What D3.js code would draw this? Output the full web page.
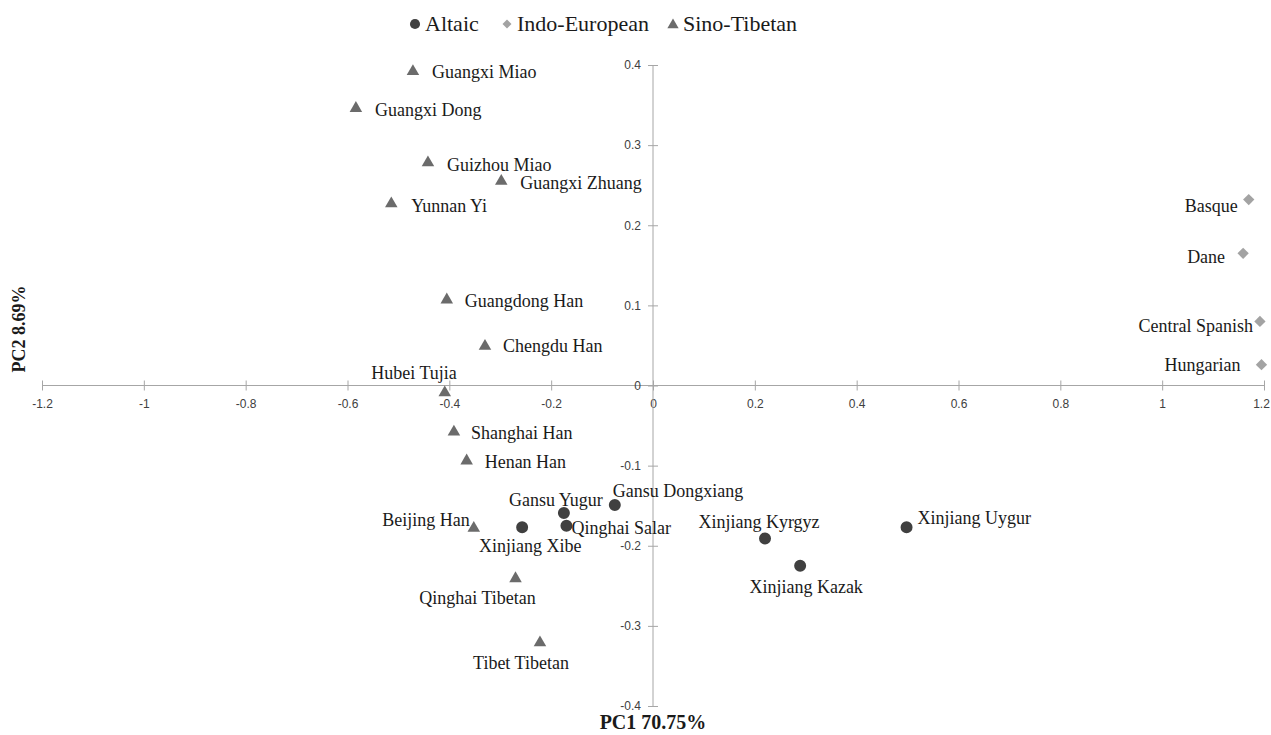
<!DOCTYPE html>
<html>
<head>
<meta charset="utf-8">
<script src="https://cdn.jsdelivr.net/npm/d3@7"></script>
<style>
  html, body { margin: 0; padding: 0; background: #fff; }
  svg { display: block; }
  .lbl { font-family: "Liberation Serif", "Times New Roman", serif; font-size: 18px; fill: #1a1a1a; }
  .tick text { font-family: "Liberation Sans", Arial, sans-serif; font-size: 12px; fill: #404040; }
</style>
</head>
<body>
<svg id="chart" width="1271" height="735"></svg>
<script>
// ---- Data ----
const altaicNames = ["Gansu Yugur", "Gansu Dongxiang", "Xinjiang Xibe", "Qinghai Salar", "Xinjiang Kyrgyz", "Xinjiang Kazak", "Xinjiang Uygur"];
const altaicPC1   = [-0.175, -0.075, -0.257, -0.170, 0.220, 0.289, 0.498];
const altaicPC2   = [-0.159, -0.149, -0.177, -0.175, -0.191, -0.225, -0.177];

const indoNames = ["Basque", "Dane", "Central Spanish", "Hungarian"];
const indoPC1   = [1.170, 1.159, 1.192, 1.195];
const indoPC2   = [0.232, 0.165, 0.080, 0.026];

const sinoNames = ["Guangxi Miao", "Guangxi Dong", "Guizhou Miao", "Guangxi Zhuang", "Yunnan Yi", "Guangdong Han", "Chengdu Han", "Hubei Tujia", "Shanghai Han", "Henan Han", "Beijing Han", "Qinghai Tibetan", "Tibet Tibetan"];
const sinoPC1   = [-0.4715, -0.5835, -0.442, -0.298, -0.514, -0.405, -0.330, -0.409, -0.391, -0.366, -0.352, -0.270, -0.222];
const sinoPC2   = [0.392, 0.346, 0.278, 0.255, 0.227, 0.107, 0.049, -0.009, -0.058, -0.094, -0.178, -0.241, -0.321];

const groups = ["Altaic", "Indo-European", "Sino-Tibetan"];
const xTicks = [-1.2, -1, -0.8, -0.6, -0.4, -0.2, 0, 0.2, 0.4, 0.6, 0.8, 1, 1.2];
const yTicks = [-0.4, -0.3, -0.2, -0.1, 0, 0.1, 0.2, 0.3, 0.4];
const xTitle = "PC1 70.75%";
const yTitle = "PC2 8.69%";

// ---- Layout / style (not data) ----
const groupStyle = {
  "Altaic":        { shape: d3.symbolCircle,   size: 113, color: "#404040", rotate: 0 },
  "Indo-European": { shape: d3.symbolSquare,   size: 64,  color: "#a3a3a3", rotate: 45 },
  "Sino-Tibetan":  { shape: d3.symbolTriangle, size: 68,  color: "#6b6b6b", rotate: 0 }
};
// label offsets relative to marker: [dx, dy, anchor]
const labelPlace = {
  "Guangxi Miao": [19, 7, "start"], "Guangxi Dong": [19, 8, "start"], "Guizhou Miao": [19, 8, "start"],
  "Guangxi Zhuang": [19, 8, "start"], "Yunnan Yi": [20, 8, "start"], "Guangdong Han": [18, 7, "start"],
  "Chengdu Han": [18, 6, "start"], "Hubei Tujia": [12, -14, "end"], "Shanghai Han": [17, 7, "start"],
  "Henan Han": [18, 7, "start"], "Beijing Han": [-4, -2, "end"], "Qinghai Tibetan": [-38, 25, "middle"],
  "Tibet Tibetan": [-19, 26, "middle"],
  "Gansu Yugur": [-8, -7, "middle"], "Gansu Dongxiang": [-2, -8, "start"], "Xinjiang Xibe": [8, 25, "middle"],
  "Qinghai Salar": [5, 8, "start"], "Xinjiang Kyrgyz": [-6, -11, "middle"], "Xinjiang Kazak": [6, 27, "middle"],
  "Xinjiang Uygur": [11, -3, "start"],
  "Basque": [-11, 12, "end"], "Dane": [-18, 10, "end"], "Central Spanish": [-7, 11, "end"], "Hungarian": [-21, 6, "end"]
};

const svg = d3.select("#chart");
const x = d3.scaleLinear().domain([-1.2, 1.2]).range([42, 1264]);
const y = d3.scaleLinear().domain([-0.4, 0.4]).range([706, 65]);
const fmt = v => String(+v.toFixed(1));
const axisColor = "#a6a6a6";

// X axis at y=0
const gx = svg.append("g").attr("transform", `translate(0,${y(0)})`)
  .call(d3.axisBottom(x).tickValues(xTicks).tickFormat(fmt).tickSize(10).tickPadding(4));
gx.select(".domain").attr("stroke", axisColor).attr("d", `M${x(-1.2)},0H${x(1.2)}`);
gx.selectAll(".tick line").attr("stroke", axisColor).attr("y1", -5).attr("y2", 5);
gx.selectAll(".tick text").attr("y", 19).attr("dy", "0.32em");
gx.selectAll(".tick").filter(d => d === 1.2).select("text").attr("x", -3);

// Y axis at x=0
const gy = svg.append("g").attr("transform", `translate(${x(0)},0)`)
  .call(d3.axisLeft(y).tickValues(yTicks).tickFormat(fmt).tickSize(10).tickPadding(4));
gy.select(".domain").attr("stroke", axisColor).attr("d", `M0,${y(0.4)}V${y(-0.4)}`);
gy.selectAll(".tick line").attr("stroke", axisColor).attr("x1", -5).attr("x2", 5);
gy.selectAll(".tick text").attr("x", -12);

// Points
function build(names, pc1, pc2, group) {
  return names.map((n, i) => ({ name: n, pc1: pc1[i], pc2: pc2[i], group }));
}
const points = [
  ...build(altaicNames, altaicPC1, altaicPC2, "Altaic"),
  ...build(indoNames, indoPC1, indoPC2, "Indo-European"),
  ...build(sinoNames, sinoPC1, sinoPC2, "Sino-Tibetan")
];

const g = svg.append("g");
g.selectAll("path.pt").data(points).join("path")
  .attr("class", "pt")
  .attr("d", d => d3.symbol().type(groupStyle[d.group].shape).size(groupStyle[d.group].size)())
  .attr("fill", d => groupStyle[d.group].color)
  .attr("transform", d => `translate(${x(d.pc1)},${y(d.pc2)}) rotate(${groupStyle[d.group].rotate})`);

g.selectAll("text.lbl").data(points).join("text")
  .attr("class", "lbl")
  .attr("x", d => x(d.pc1) + labelPlace[d.name][0])
  .attr("y", d => y(d.pc2) + labelPlace[d.name][1])
  .attr("text-anchor", d => labelPlace[d.name][2])
  .text(d => d.name);

// Axis titles
svg.append("text")
  .attr("x", x(0)).attr("y", 729)
  .attr("text-anchor", "middle")
  .style("font-family", "'Liberation Serif', 'Times New Roman', serif")
  .style("font-weight", "bold").style("font-size", "20px").attr("fill", "#1a1a1a")
  .text(xTitle);
svg.append("text")
  .attr("transform", `translate(25,329) rotate(-90)`)
  .attr("text-anchor", "middle")
  .style("font-family", "'Liberation Serif', 'Times New Roman', serif")
  .style("font-weight", "bold").style("font-size", "18px").attr("fill", "#1a1a1a")
  .text(yTitle);

// Legend
const legendX = [415, 507, 673];
const leg = svg.append("g");
groups.forEach((grp, i) => {
  const st = groupStyle[grp];
  const sizeScale = grp === "Altaic" ? 80 : (grp === "Indo-European" ? 40 : 55);
  leg.append("path")
    .attr("d", d3.symbol().type(st.shape).size(sizeScale)())
    .attr("fill", st.color)
    .attr("transform", `translate(${legendX[i]},${grp === "Sino-Tibetan" ? 25 : 24}) rotate(${st.rotate})`);
  leg.append("text")
    .attr("x", legendX[i] + 10).attr("y", 31)
    .style("font-family", "'Liberation Serif', 'Times New Roman', serif")
    .style("font-size", "22px").attr("fill", "#1a1a1a")
    .text(grp);
});
</script>
</body>
</html>
